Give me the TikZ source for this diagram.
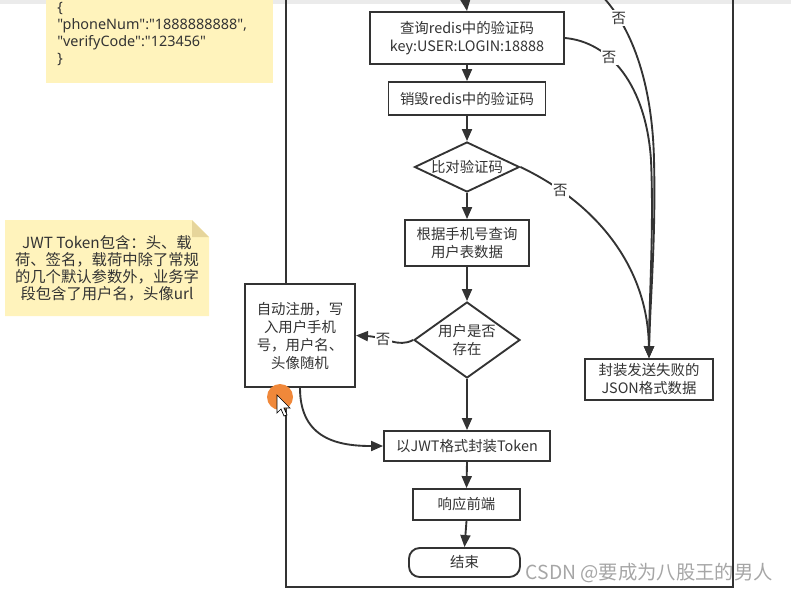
\documentclass[tikz,border=0pt]{standalone}
\usepackage{fontspec}
\setmainfont{Noto Sans CJK SC}
\newfontfamily\latinfont{Noto Sans}
\usetikzlibrary{arrows.meta,shapes.geometric}

\definecolor{linegray}{HTML}{333333}
\definecolor{notefill}{HTML}{FFF3BC}
\definecolor{notefold}{HTML}{E6D59B}
\definecolor{dotorange}{HTML}{F0883A}

\tikzset{
  every node/.style={text=linegray, font=\fontsize{10.8}{13.5}\selectfont},
  proc/.style={draw=linegray, line width=1.4pt, fill=white, align=center, inner sep=0pt},
  decide/.style={proc, shape=diamond},
  flow/.style={draw=linegray, line width=1.4pt, -{Triangle[length=9pt,width=7.5pt]}},
  nolabel/.style={fill=white, inner sep=1pt},
}

\begin{document}
\begin{tikzpicture}[x=0.75pt,y=-0.75pt]
\useasboundingbox (0,0) rectangle (791,604);
\clip (0,0) rectangle (791,604);
\fill[black!8] (0,0) rectangle (791,4);

% notes
\fill[notefill] (46,0) rectangle (273,83);
\node[anchor=north west, align=left, inner sep=0pt,
  font=\latinfont\fontsize{10.8}{12.75}\selectfont] (request) at (57,2)
  {\{\\"phoneNum":"1888888888",\\"verifyCode":"123456"\\\}};

\fill[notefill] (5,220) -- (192,220) -- (209,237) -- (209,316) -- (5,316) -- cycle;
\fill[notefold] (192,220) -- (209,237) -- (192,237) -- cycle;
\node[align=center, font=\fontsize{11.5}{12.75}\selectfont] (jwtnote) at (107,268)
  {JWT Token包含：头、载\\荷、签名，载荷中除了常规\\的几个默认参数外，业务字\\段包含了用户名，头像url};

% container
\draw[linegray, line width=1.4pt] (286,-5) rectangle (733,587);

\node[proc, minimum width=145.5pt, minimum height=39pt] (query) at (467,38)
  {查询redis中的验证码\\key:USER:LOGIN:18888};
\node[proc, minimum width=117.75pt, minimum height=24.75pt] (purge) at (467,98.5)
  {销毁redis中的验证码};
\node[decide, aspect=2.1, minimum width=78.75pt, minimum height=37.5pt] (compare) at (467,167)
  {比对验证码};
\node[proc, minimum width=93pt, minimum height=34.5pt] (lookup) at (467,243)
  {根据手机号查询\\用户表数据};
\node[decide, aspect=1.4, minimum width=79.5pt, minimum height=57pt] (exists) at (467,340)
  {用户是否\\存在};
\node[proc, minimum width=82.5pt, minimum height=77.25pt] (register) at (300,335.5)
  {自动注册，写\\入用户手机\\号，用户名、\\头像随机};
\node[proc, minimum width=124.5pt, minimum height=22.5pt] (token) at (467,446)
  {以JWT格式封装Token};
\node[proc, minimum width=80.25pt, minimum height=23.25pt] (reply) at (466.5,504.5)
  {响应前端};
\node[proc, rounded corners=8pt, minimum width=83.25pt, minimum height=21.75pt] (finish) at (464.5,562.5)
  {结束};
\node[proc, minimum width=96pt, minimum height=30.75pt] (fail) at (649,379.5)
  {封装发送失败的\\JSON格式数据};

\coordinate (inflow) at (465,-4);
\coordinate (outflow) at (602,-4);

\draw[flow] (inflow) -- (query.north);
\draw[flow] (query.south) -- (purge.north);
\draw[flow] (purge.south) -- (compare.north);
\draw[flow] (compare.south) -- (lookup.north);
\draw[flow] (lookup.south) -- (exists.north);
\draw[flow] (exists.south) -- (token.north);
\draw[flow] (token.south) -- (reply.north);
\draw[flow] (reply.south) -- (finish.north);

\draw[flow] (exists.west) .. controls (398,348) and (385,337) .. (register.east)
  node[nolabel, pos=0.62] {否};
\draw[flow] (register.south) .. controls (300,440) and (340,446) .. (token.west);

\draw[flow] (outflow) .. controls (625,20) and (652,70) .. (654,160)
  node[nolabel, pos=0.24] {否}
  .. controls (656,240) and (650,300) .. (fail.north);
\draw[flow] (query.east) .. controls (610,42) and (646,85) .. (651,160)
  node[nolabel, pos=0.36] {否}
  .. controls (654,230) and (649,300) .. (fail.north);
\draw[flow] (compare.east) .. controls (600,205) and (648,270) .. (fail.north)
  node[nolabel, pos=0.18] {否};

% pointer
\fill[dotorange] (280,397) circle[radius=9.75pt];
\filldraw[fill=white, draw=black, line width=0.5pt] (277,395) -- (277,413) -- (281,409)
  -- (284,416) -- (287,415) -- (284,408) -- (290,408) -- cycle;

\node[anchor=west, text=black!35, font=\fontsize{14.5}{16}\selectfont] (mark) at (521,573)
  {CSDN @要成为八股王的男人};
\end{tikzpicture}
\end{document}
